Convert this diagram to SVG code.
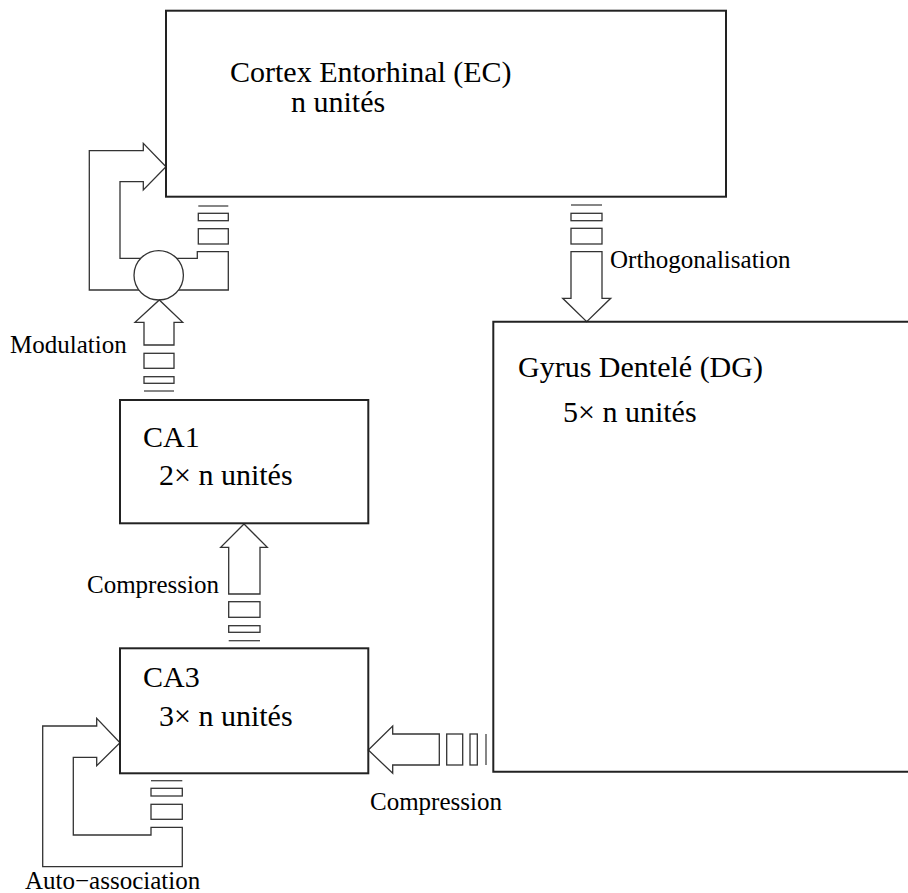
<svg xmlns="http://www.w3.org/2000/svg" width="908" height="893" viewBox="0 0 908 893">
<style>
.box{fill:none;stroke:#222;stroke-width:2}
.arr{fill:#fff;stroke:#333;stroke-width:1.3;stroke-linejoin:miter}
.seg{fill:none;stroke:#444;stroke-width:1.3}
.t{font-family:"Liberation Serif","Times New Roman",serif;font-size:30px;fill:#000}
.l{font-family:"Liberation Serif","Times New Roman",serif;font-size:25px;fill:#000}
</style>
<rect width="908" height="893" fill="#fff"/>
<g id="connectors">
  <path class="arr" d="M228.3,251.7 V290 H89.3 V150.7 H143.3 V143.3 L166,166.7 L143.3,190 V181.7 H120 V258.3 H197.3 V251.7 Z"/>
  <circle class="arr" cx="158.7" cy="275.3" r="24.7"/>
  <line class="seg" x1="198.3" y1="206" x2="228.3" y2="206"/>
  <rect class="arr" x="198.3" y="213.3" width="30" height="7.4"/>
  <rect class="arr" x="198.3" y="228.7" width="30" height="15.3"/>
  <path class="arr" d="M144,345 V322.3 H135 L159.3,300 L182.7,322.3 H174 V345 Z"/>
  <rect class="arr" x="144" y="353.3" width="30" height="15"/>
  <rect class="arr" x="144" y="376.7" width="30" height="6.6"/>
  <line class="seg" x1="144" y1="391" x2="174" y2="391"/>
  <line class="seg" x1="571" y1="205" x2="602" y2="205"/>
  <rect class="arr" x="571" y="213.3" width="31" height="7.4"/>
  <rect class="arr" x="571" y="228.3" width="31" height="15.7"/>
  <path class="arr" d="M571,251.7 H602 V298.3 H610.7 L586.7,321.7 L562.7,298.3 H571 Z"/>
  <path class="arr" d="M228.7,594 V547.3 H220.7 L244,524 L267.3,547.3 H260 V594 Z"/>
  <rect class="arr" x="228.7" y="601.7" width="31.3" height="15.6"/>
  <rect class="arr" x="228.7" y="625.7" width="31.3" height="6.6"/>
  <line class="seg" x1="228.7" y1="640.7" x2="260" y2="640.7"/>
  <path class="arr" d="M439.3,734 H392.7 V726 L368.3,750 L392.7,773.3 V765 H439.3 Z"/>
  <rect class="arr" x="446.7" y="734" width="16" height="31"/>
  <rect class="arr" x="470" y="734" width="7.3" height="31"/>
  <line class="seg" x1="486" y1="734" x2="486" y2="765"/>
  <path class="arr" d="M182.3,827.3 V866.7 H42.7 V726 H96.7 V718.3 L120,742.7 L96.7,765.7 V757.3 H73.3 V835 H151 V827.3 Z"/>
  <line class="seg" x1="151" y1="780.7" x2="182.3" y2="780.7"/>
  <rect class="arr" x="151" y="788.3" width="31.3" height="7.7"/>
  <rect class="arr" x="151" y="804.3" width="31.3" height="15"/>
</g>
<g id="labels">
  <text class="l" x="10" y="353">Modulation</text>
  <text class="l" x="610" y="268">Orthogonalisation</text>
  <text class="l" x="87" y="593">Compression</text>
  <text class="l" x="370" y="810">Compression</text>
  <text class="l" x="25" y="889">Auto&#8722;association</text>
</g>
<g id="ec">
  <rect class="box" x="166" y="10.7" width="560" height="186"/>
  <text class="t" x="230" y="82">Cortex Entorhinal (EC)</text>
  <text class="t" x="291" y="112">n unit<tspan>&#233;</tspan>s</text>
</g>
<g id="dg">
  <path class="box" d="M908,321.7 H493.3 V771.7 H908"/>
  <text class="t" x="518" y="377">Gyrus Dentel<tspan>&#233;</tspan> (DG)</text>
  <text class="t" x="563" y="422">5<tspan>&#215;</tspan> n unit<tspan>&#233;</tspan>s</text>
</g>
<g id="ca1">
  <rect class="box" x="120" y="400" width="248.3" height="123.3"/>
  <text class="t" x="143" y="447">CA1</text>
  <text class="t" x="159" y="485">2<tspan>&#215;</tspan> n unit<tspan>&#233;</tspan>s</text>
</g>
<g id="ca3">
  <rect class="box" x="120" y="648.3" width="248.3" height="125"/>
  <text class="t" x="143" y="687">CA3</text>
  <text class="t" x="159" y="726">3<tspan>&#215;</tspan> n unit<tspan>&#233;</tspan>s</text>
</g>
</svg>
